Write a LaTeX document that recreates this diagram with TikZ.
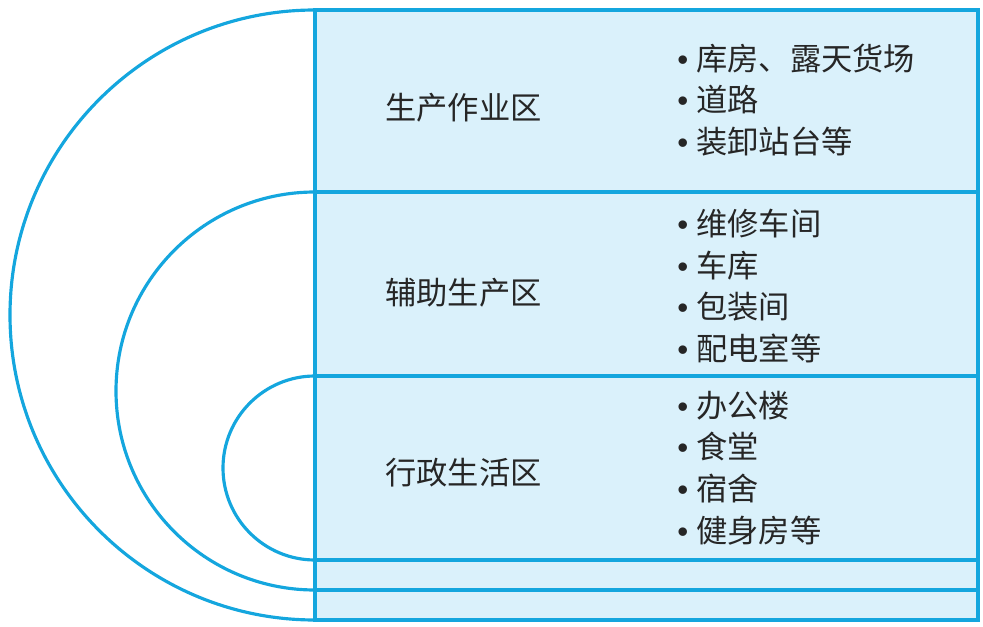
\documentclass[tikz,border=0pt]{standalone}
\usepackage{fontspec}
\newfontfamily\cjk{Noto Sans CJK SC}
\newfontfamily\latin{Liberation Sans}
\usepackage{tikz}
\usetikzlibrary{positioning}
\definecolor{zoneblue}{RGB}{20,166,222}
\definecolor{zonefill}{RGB}{218,241,251}
\newcommand{\itm}{{\latin\symbol{"2022}}\hspace{4.5pt}}

\begin{document}
\begin{tikzpicture}[
  x=0.02cm, y=0.02cm,
  edge/.style={draw=zoneblue, line width=1.8pt},
  zone/.style={anchor=west, inner sep=0pt, font=\cjk\fontsize{17.8}{20}\selectfont, text=black!85},
  items/.style={anchor=west, inner sep=0pt, align=left, font=\cjk\fontsize{17.8}{23.8}\selectfont, text=black!85}
]
\useasboundingbox (0,0) rectangle (983,626);

% box with the three bands
\fill[zonefill] (315,6) rectangle (978,616);
\draw[edge] (315,6) rectangle (978,616);
\draw[edge] (315,434) -- (978,434);
\draw[edge] (315,250) -- (978,250);
\draw[edge] (315,66) -- (978,66);
\draw[edge] (315,36) -- (978,36);

% half rings
\draw[edge] (315,616) arc (90:270:305);
\draw[edge] (315,434) arc (90:270:199);
\draw[edge] (315,250) arc (90:270:92);

% zone names
\node[zone] (z1) at (385,518) {生产作业区};
\node[zone] (z2) at (385,333) {辅助生产区};
\node[zone] (z3) at (385,153) {行政生活区};

% facilities
\node[items] (f1) at (677,526) {\itm 库房、露天货场\\\itm 道路\\\itm 装卸站台等};
\node[items] (f2) at (677,340) {\itm 维修车间\\\itm 车库\\\itm 包装间\\\itm 配电室等};
\node[items] (f3) at (677,158) {\itm 办公楼\\\itm 食堂\\\itm 宿舍\\\itm 健身房等};

\end{tikzpicture}
\end{document}
